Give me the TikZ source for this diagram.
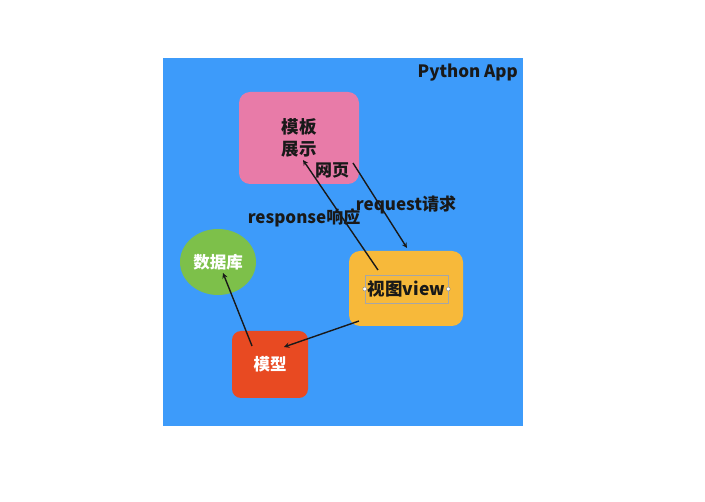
\documentclass[tikz,border=0pt]{standalone}
\usepackage{fontspec}
\setmainfont{Noto Sans CJK SC}
\usetikzlibrary{positioning,shapes,arrows,calc}
\definecolor{appblue}{RGB}{61,155,250}
\definecolor{tplpink}{RGB}{232,123,168}
\definecolor{viewgold}{RGB}{247,185,58}
\definecolor{dbgreen}{RGB}{125,192,74}
\definecolor{modelred}{RGB}{232,74,34}
\definecolor{ink}{RGB}{25,25,25}
\tikzstyle{stage} = [rectangle, rounded corners=11pt, inner sep=0pt, text centered, text=ink, font=\bfseries\fontsize{17.5}{22}\selectfont]
\tikzstyle{arrow} = [line width=1.4pt,->,>=stealth,draw=ink]
\tikzstyle{lbl} = [text=ink, inner sep=0pt, font=\bfseries\fontsize{17}{20}\selectfont]

\begin{document}
\begin{tikzpicture}[x=1pt,y=-1pt]
\fill[white] (0,0) rectangle (705,502);
\useasboundingbox (0,0) rectangle (705,502);

\node (app) [fill=appblue, inner sep=0pt, minimum width=360pt, minimum height=368pt, anchor=north west] at (163,58) {};
\node (title) [lbl, anchor=east] at (518,73) {Python App};

\node (tpl) [stage, fill=tplpink, minimum width=120pt, minimum height=92pt, align=center] at (299,138) {模板\\展示};
\node (view) [stage, fill=viewgold, minimum width=114pt, minimum height=75pt] at (406,288.5) {};
\node (viewtxt) [draw=gray!70, line width=0.4pt, inner sep=0pt, minimum width=83pt, minimum height=28pt, text=ink, font=\bfseries\fontsize{17.5}{20}\selectfont] at (406.5,289) {视图view};
\node (db) [ellipse, fill=dbgreen, minimum width=76pt, minimum height=66pt, inner sep=0pt, text=white, font=\bfseries\fontsize{16.5}{20}\selectfont] at (218,262) {数据库};
\node (model) [stage, fill=modelred, rounded corners=9pt, minimum width=76pt, minimum height=67pt, text=white, font=\bfseries\fontsize{16.5}{20}\selectfont] at (270,364.5) {模型};

% handles of the selected text box
\fill[white, draw=gray] (viewtxt.west) circle (2pt);
\fill[white, draw=gray] (viewtxt.east) circle (2pt);

\node (page) [lbl] at (332,170) {网页};
\node (req) [lbl] at (406,205) {request请求};
\node (resp) [lbl] at (304,218) {response响应};

\coordinate (resp-a) at (378,270);
\coordinate (resp-b) at (303,160);
\coordinate (req-a) at (353,163);
\coordinate (req-b) at (407,248);
\coordinate (mod-a) at (359,321);
\coordinate (mod-b) at (284,347);
\coordinate (db-a) at (252,346);
\coordinate (db-b) at (223,273);

\draw [arrow] (resp-a) -- (resp-b);
\draw [arrow] (req-a) -- (req-b);
\draw [arrow] (mod-a) -- (mod-b);
\draw [arrow] (db-a) -- (db-b);

\end{tikzpicture}
\end{document}
